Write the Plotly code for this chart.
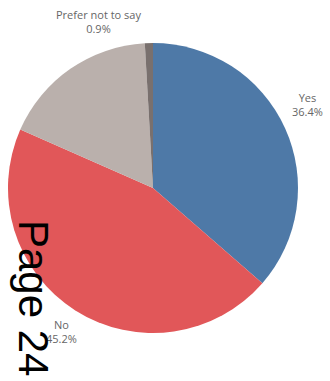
import plotly.graph_objects as go

# Survey response shares (percent)
categories = ["Yes", "No", "Don't know", "Prefer not to say"]
shares = [36.4, 45.2, 17.5, 0.9]
colors = ["#4e79a7", "#e15759", "#bab0ac", "#79706e"]
labelled = ["Yes", "No", "Prefer not to say"]

fig = go.Figure(
    go.Pie(
        labels=categories,
        values=shares,
        sort=False,
        direction="clockwise",
        rotation=0,
        marker=dict(colors=colors, line=dict(width=0)),
        textinfo="none",
        hoverinfo="label+percent",
        domain=dict(x=[8 / 330, 298 / 330], y=[1 - 333 / 381, 1 - 43 / 381]),
        showlegend=False,
    )
)

# Outside labels for the named slices
label_pos = {
    "Yes": (307, 104),
    "No": (62, 331),
    "Prefer not to say": (98, 22),
}
for cat, val in zip(categories, shares):
    if cat not in labelled:
        continue
    px, py = label_pos[cat]
    fig.add_annotation(
        x=px / 330, y=1 - py / 381, xref="paper", yref="paper",
        text=f"{cat}<br>{val:.1f}%", showarrow=False,
        font=dict(family="Open Sans, Lato, sans-serif", size=11, color="#666666"),
        align="center", xanchor="center", yanchor="middle",
    )

# Page marker running down the left side
fig.add_annotation(
    x=34 / 330, y=1 - 298 / 381, xref="paper", yref="paper",
    text="Page 24", showarrow=False, textangle=90,
    font=dict(family="Liberation Sans, Arial, sans-serif", size=42, color="black"),
    xanchor="center", yanchor="middle",
)

fig.update_layout(
    width=330, height=381,
    margin=dict(l=0, r=0, t=0, b=0),
    paper_bgcolor="white", plot_bgcolor="white",
)

fig.write_html("out.html")
